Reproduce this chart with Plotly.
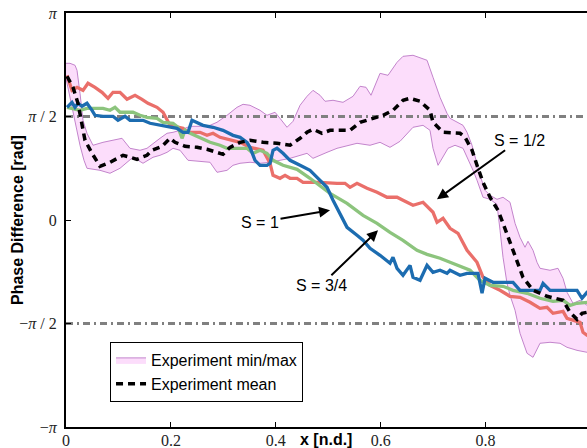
import plotly.graph_objects as go

# ---------------- data (x in n.d., phase difference in rad) ----------------
x_red = [0.0019, 0.0114, 0.0210, 0.0324, 0.0419, 0.0553, 0.0686, 0.0801, 0.0896, 0.1030,
         0.1163, 0.1316, 0.1449, 0.1563, 0.1735, 0.1850, 0.1983, 0.2116, 0.2231, 0.2326,
         0.2555, 0.2688, 0.2803, 0.2936, 0.3184, 0.3318, 0.3508, 0.3756, 0.3890, 0.3947,
         0.4080, 0.4176, 0.4271, 0.4405, 0.4519, 0.4843, 0.5167, 0.5319, 0.5415, 0.5548,
         0.5739, 0.5930, 0.6120, 0.6311, 0.6425, 0.6616, 0.6807, 0.6997, 0.7074, 0.7188,
         0.7321, 0.7474, 0.7646, 0.7836, 0.7951, 0.8084, 0.8275, 0.8465, 0.8656, 0.8847,
         0.9037, 0.9171, 0.9285, 0.9476, 0.9552, 0.9667, 0.9800, 0.9857, 0.9934, 1.0]
y_red = [2.196, 1.968, 2.014, 1.968, 2.075, 2.014, 1.938, 1.847, 1.938, 1.938,
         1.832, 1.893, 1.832, 1.771, 1.710, 1.635, 1.437, 1.407, 1.392, 1.331,
         1.331, 1.285, 1.316, 1.255, 1.210, 1.179, 1.103, 1.058, 0.861, 0.678,
         0.633, 0.678, 0.633, 0.633, 0.572, 0.572, 0.557, 0.557, 0.496, 0.557,
         0.481, 0.420, 0.345, 0.345, 0.299, 0.223, 0.269, 0.117, -0.035, 0.026,
         -0.126, -0.202, -0.460, -0.642, -0.870, -0.991, -1.067, -1.158, -1.173, -1.249,
         -1.340, -1.325, -1.416, -1.386, -1.492, -1.522, -1.553, -1.704, -1.750, -1.770]

x_green = [0.0019, 0.0133, 0.0267, 0.0400, 0.0515, 0.0705, 0.0839, 0.0934, 0.1030, 0.1277,
           0.1411, 0.1544, 0.1735, 0.1850, 0.2040, 0.2135, 0.2212, 0.2269, 0.2326, 0.2555,
           0.2746, 0.2936, 0.3070, 0.3318, 0.3451, 0.3565, 0.3699, 0.3832, 0.3947, 0.4137,
           0.4405, 0.4652, 0.4786, 0.5034, 0.5358, 0.5663, 0.5930, 0.6177, 0.6425, 0.6692,
           0.6883, 0.7131, 0.7321, 0.7512, 0.7703, 0.7893, 0.8084, 0.8332, 0.8523, 0.8790,
           0.9037, 0.9285, 0.9476, 0.9609, 0.9743, 0.9934, 1.0]
y_green = [1.710, 1.695, 1.665, 1.695, 1.695, 1.695, 1.665, 1.710, 1.635, 1.635,
           1.589, 1.559, 1.543, 1.483, 1.468, 1.407, 1.240, 1.361, 1.331, 1.255,
           1.179, 1.134, 1.088, 1.088, 1.088, 1.012, 1.058, 1.012, 0.906, 0.830,
           0.769, 0.633, 0.557, 0.405, 0.253, 0.071, -0.050, -0.187, -0.308, -0.460,
           -0.521, -0.581, -0.642, -0.703, -0.763, -0.915, -0.991, -1.006, -1.067, -1.112,
           -1.188, -1.234, -1.219, -1.295, -1.264, -1.249, -1.250]

x_blue = [0.0019, 0.0114, 0.0172, 0.0229, 0.0305, 0.0400, 0.0496, 0.0553, 0.0705, 0.0896,
          0.0991, 0.1125, 0.1220, 0.1468, 0.1602, 0.1792, 0.1983, 0.2116, 0.2231, 0.2326,
          0.2402, 0.2498, 0.2612, 0.2803, 0.2993, 0.3184, 0.3318, 0.3451, 0.3508, 0.3604,
          0.3699, 0.3832, 0.3890, 0.3947, 0.4023, 0.4137, 0.4271, 0.4462, 0.4652, 0.4786,
          0.4976, 0.5091, 0.5224, 0.5358, 0.5548, 0.5663, 0.5796, 0.5987, 0.6177, 0.6234,
          0.6311, 0.6425, 0.6559, 0.6616, 0.6750, 0.6883, 0.6997, 0.7131, 0.7264, 0.7321,
          0.7512, 0.7646, 0.7855, 0.7932, 0.7989, 0.8141, 0.8523, 0.8656, 0.9037, 0.9095,
          0.9228, 0.9743, 0.9838, 0.9934, 1.0]
y_blue = [1.710, 1.786, 1.710, 1.771, 1.726, 1.771, 1.665, 1.589, 1.574, 1.574,
          1.513, 1.574, 1.513, 1.513, 1.468, 1.437, 1.407, 1.392, 1.331, 1.331,
          1.513, 1.483, 1.437, 1.407, 1.361, 1.285, 1.255, 1.179, 1.103, 0.906,
          0.830, 0.830, 0.861, 1.058, 1.088, 1.012, 0.906, 0.830, 0.754, 0.648,
          0.496, 0.299, 0.102, -0.111, -0.232, -0.308, -0.430, -0.536, -0.657, -0.566,
          -0.733, -0.839, -0.688, -0.870, -0.915, -0.688, -0.794, -0.763, -0.809, -0.763,
          -0.839, -0.809, -0.809, -1.112, -0.885, -0.946, -0.946, -1.067, -1.067, -0.961,
          -1.067, -1.067, -1.188, -1.097, -1.100]

x_mean = [0.0019, 0.0133, 0.0229, 0.0305, 0.0362, 0.0496, 0.0648, 0.0839, 0.1087, 0.1354,
          0.1544, 0.1640, 0.1830, 0.1983, 0.2078, 0.2269, 0.2498, 0.2688, 0.2879, 0.2993,
          0.3127, 0.3318, 0.3508, 0.3756, 0.4023, 0.4271, 0.4462, 0.4595, 0.4709, 0.4881,
          0.5034, 0.5281, 0.5415, 0.5606, 0.5854, 0.6045, 0.6235, 0.6425, 0.6559, 0.6750,
          0.6940, 0.6997, 0.7188, 0.7512, 0.7608, 0.7741, 0.7836, 0.7951, 0.8084, 0.8237,
          0.8332, 0.8427, 0.8523, 0.8618, 0.8713, 0.8904, 0.9171, 0.9476, 0.9609, 0.9743,
          0.9838, 0.9934, 1.0]
y_mean = [2.181, 2.014, 1.771, 1.407, 1.210, 1.012, 0.815, 0.876, 0.982, 0.921,
          0.982, 1.058, 1.119, 1.240, 1.179, 1.119, 1.103, 1.073, 1.027, 0.997,
          1.103, 1.179, 1.210, 1.179, 1.164, 1.134, 1.240, 1.331, 1.377, 1.316,
          1.361, 1.361, 1.361, 1.483, 1.543, 1.589, 1.665, 1.817, 1.847, 1.802,
          1.665, 1.483, 1.331, 1.316, 1.255, 1.058, 0.830, 0.572, 0.345, 0.147,
          -0.050, -0.263, -0.460, -0.657, -0.870, -1.067, -1.158, -1.219, -1.401, -1.507,
          -1.416, -1.401, -1.410]

x_max = [0.0, 0.0076, 0.0172, 0.0210, 0.0267, 0.0324, 0.0400, 0.0515, 0.0705, 0.0896,
         0.1068, 0.1220, 0.1411, 0.1544, 0.1659, 0.1792, 0.1926, 0.2040, 0.2174, 0.2364,
         0.2555, 0.2746, 0.2879, 0.3070, 0.3260, 0.3375, 0.3508, 0.3699, 0.3832, 0.3985,
         0.4080, 0.4214, 0.4328, 0.4462, 0.4595, 0.4709, 0.4843, 0.4938, 0.5091, 0.5281,
         0.5472, 0.5606, 0.5720, 0.5815, 0.5987, 0.6139, 0.6311, 0.6425, 0.6616, 0.6883,
         0.6997, 0.7131, 0.7264, 0.7321, 0.7569, 0.7646, 0.7741, 0.7893, 0.7989, 0.8084,
         0.8217, 0.8332, 0.8465, 0.8561, 0.8656, 0.8751, 0.8808, 0.8904, 0.8980, 0.9037,
         0.9228, 0.9380, 0.9476, 0.9552, 0.9667, 0.9800, 0.9934, 1.0]
y_max = [2.378, 2.378, 2.348, 2.272, 1.923, 1.513, 1.316, 1.134, 1.179, 1.210,
         1.240, 1.088, 1.058, 1.088, 1.164, 1.240, 1.316, 1.331, 1.361, 1.422,
         1.422, 1.437, 1.483, 1.589, 1.710, 1.756, 1.741, 1.665, 1.589, 1.635,
         1.543, 1.407, 1.498, 1.741, 1.877, 1.968, 1.893, 1.802, 1.817, 1.786,
         1.877, 2.029, 2.014, 1.893, 2.226, 2.196, 2.393, 2.484, 2.500, 2.424,
         2.166, 1.862, 1.619, 1.543, 1.437, 1.331, 1.134, 0.678, 0.451, 0.375,
         0.314, 0.345, 0.269, -0.050, -0.263, -0.414, -0.323, -0.460, -0.642, -0.733,
         -0.763, -0.733, -0.885, -1.097, -1.264, -1.219, -1.295, -1.300]

x_min = [0.0, 0.0076, 0.0133, 0.0210, 0.0267, 0.0343, 0.0400, 0.0648, 0.0839, 0.1030,
         0.1163, 0.1277, 0.1468, 0.1659, 0.1792, 0.1926, 0.2040, 0.2174, 0.2326, 0.2555,
         0.2746, 0.2879, 0.3070, 0.3184, 0.3318, 0.3508, 0.3699, 0.3890, 0.4080, 0.4271,
         0.4462, 0.4595, 0.4709, 0.4843, 0.4976, 0.5167, 0.5319, 0.5548, 0.5796, 0.5987,
         0.6177, 0.6368, 0.6616, 0.6807, 0.6940, 0.6997, 0.7093, 0.7188, 0.7283, 0.7417,
         0.7569, 0.7760, 0.7836, 0.7951, 0.8084, 0.8217, 0.8275, 0.8332, 0.8408, 0.8465,
         0.8561, 0.8656, 0.8790, 0.8904, 0.9037, 0.9228, 0.9418, 0.9552, 0.9743, 0.9934, 1.0]
y_min = [2.151, 1.893, 1.665, 1.361, 1.134, 0.906, 0.785, 0.754, 0.709, 0.785,
         0.876, 0.952, 0.861, 0.952, 0.982, 1.027, 1.088, 1.058, 0.906, 0.891,
         0.876, 0.724, 0.754, 0.830, 0.861, 0.876, 0.861, 0.876, 0.906, 0.936,
         0.982, 1.012, 0.936, 0.982, 1.027, 1.088, 1.119, 1.164, 1.134, 1.179,
         1.103, 1.194, 1.407, 1.437, 1.361, 1.088, 0.830, 0.952, 1.088, 1.134,
         1.088, 0.754, 0.603, 0.345, 0.314, 0.238, -0.156, -0.566, -0.961, -1.143,
         -1.370, -1.720, -2.023, -2.084, -1.871, -1.856, -1.871, -1.932, -1.978, -2.008, -2.010]

ref_x = [0.0, 1.0]
ref_pos = [1.5708, 1.5708]
ref_neg = [-1.5708, -1.5708]

y_tickvals = [-3.14159, -1.5708, 0.0, 1.5708, 3.14159]
y_ticktext = ["\u2212<i>\u03c0</i>", "\u2212<i>\u03c0</i> / 2", "0", "<i>\u03c0</i> / 2", "<i>\u03c0</i>"]
x_tickvals = [0.0, 0.2, 0.4, 0.6, 0.8]
x_ticktext = ["0", "0.2", "0.4", "0.6", "0.8"]

# ---------------- figure ----------------
fig = go.Figure()

fig.add_trace(go.Scatter(
    x=x_max + x_min[::-1], y=y_max + y_min[::-1],
    fill="toself", fillcolor="#FCDDFB", mode="lines",
    line=dict(color="#C384CC", width=1),
    name="Experiment min/max"))

for yy in (ref_pos, ref_neg):
    fig.add_trace(go.Scatter(x=ref_x, y=yy, mode="lines", showlegend=False,
                             line=dict(color="#808080", width=3, dash="7px,4px,2px,4px")))

fig.add_trace(go.Scatter(x=x_red, y=y_red, mode="lines", showlegend=False,
                         line=dict(color="#EA6F6A", width=3.3)))
fig.add_trace(go.Scatter(x=x_green, y=y_green, mode="lines", showlegend=False,
                         line=dict(color="#8CC47D", width=3.3)))
fig.add_trace(go.Scatter(x=x_blue, y=y_blue, mode="lines", showlegend=False,
                         line=dict(color="#1C6CB0", width=3.3)))
fig.add_trace(go.Scatter(x=x_mean, y=y_mean, mode="lines", name="Experiment mean",
                         line=dict(color="black", width=3.5, dash="7px,5px")))

ann_font = dict(family="Arial, Liberation Sans, sans-serif", size=16, color="black")
arrows = [
    ("S = 1/2", 0.8637, 1.210, 0.7073, 0.314),
    ("S = 1", 0.3699, -0.035, 0.5034, 0.147),
    ("S = 3/4", 0.4862, -0.991, 0.5949, -0.156),
]
for txt, tx, ty, hx, hy in arrows:
    fig.add_annotation(x=hx, y=hy, ax=tx, ay=ty, xref="x", yref="y", axref="x", ayref="y",
                       text=txt, showarrow=True, arrowhead=2, arrowsize=1.1, arrowwidth=2,
                       arrowcolor="black", font=ann_font, standoff=0, startstandoff=0)

title_font = dict(family="Arial, Liberation Sans, sans-serif", size=16, color="black")
fig.add_annotation(x=0.499, y=-0.0314, xref="paper", yref="paper", text="<b>x [n.d.]</b>",
                   showarrow=False, font=title_font, xanchor="center", yanchor="middle")
fig.add_annotation(x=-0.094, y=0.5, xref="paper", yref="paper", text="<b>Phase Difference [rad]</b>",
                   showarrow=False, textangle=-90, font=title_font, xanchor="center", yanchor="middle")

tick_font = dict(family="Liberation Serif, DejaVu Serif, serif", size=16, color="#222222")

fig.update_layout(
    width=587, height=448,
    margin=dict(l=66, r=0, t=13, b=21, autoexpand=False),
    plot_bgcolor="white", paper_bgcolor="white",
    legend=dict(x=0.0845, y=0.2053, xanchor="left", yanchor="top",
                bgcolor="white", bordercolor="black", borderwidth=1,
                font=dict(family="Arial, Liberation Sans, sans-serif", size=16, color="black"),
                tracegroupgap=0),
    xaxis=dict(range=[0, 0.9933], tickvals=x_tickvals, ticktext=x_ticktext, automargin=False,
               showgrid=False, zeroline=False, showline=True, linecolor="black", linewidth=2,
               mirror="ticks", ticks="inside", ticklen=5, tickcolor="black", tickwidth=1,
               tickfont=tick_font, ticklabelstandoff=-2, ticklabeloverflow="allow"),
    yaxis=dict(range=[-3.14159, 3.14159], tickvals=y_tickvals, ticktext=y_ticktext, automargin=False,
               showgrid=False, zeroline=False, showline=True, linecolor="black", linewidth=2,
               ticks="inside", ticklen=5, tickcolor="black", tickwidth=1,
               tickfont=tick_font, ticklabelstandoff=4, ticklabeloverflow="allow"),
)

fig.write_html("out.html", config={"displayModeBar": False},
               post_script="document.body.style.margin='0';document.body.style.overflow='hidden';")
